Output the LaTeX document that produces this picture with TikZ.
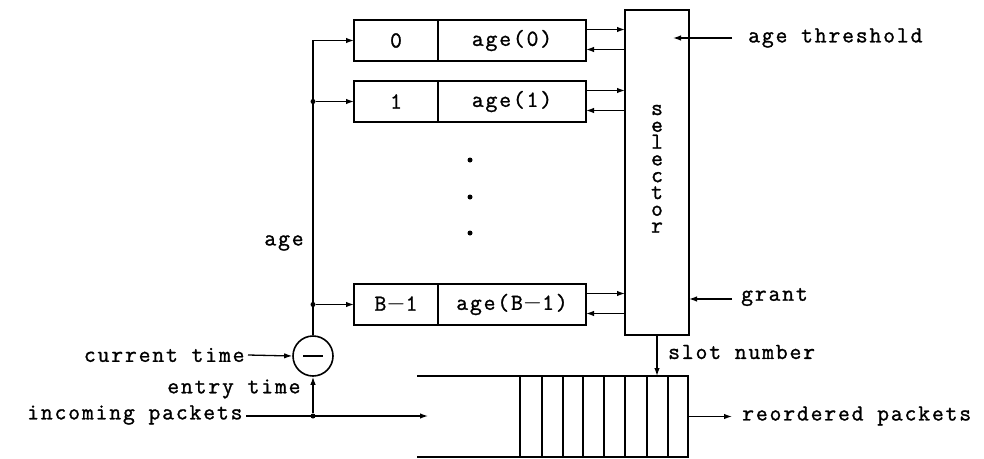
\documentclass[tikz,border=0pt]{standalone}
\usepackage{fontspec}
\setmonofont{Latin Modern Mono}[LetterSpace=8,FakeBold=1.2]
\usetikzlibrary{arrows.meta}
\begin{document}
\begin{tikzpicture}[x=1pt,y=-1pt,
  every node/.style={font=\fontsize{23}{17.5}\selectfont\ttfamily},
  box/.style={draw,line width=2pt,minimum height=41pt,inner sep=0pt,outer sep=0pt},
  conn/.style={line width=1.3pt,-{Latex[length=8pt,width=5.5pt]}},
  wire/.style={line width=1.3pt},
  dot/.style={circle,fill,inner sep=0pt,minimum size=5pt},
  letter/.style={inner sep=0pt,text height=8pt,text depth=0pt}]
\useasboundingbox (0,0) rectangle (984,458);

% register boxes
\node[box,minimum width=84pt]  (i0) at (396,40.5) {0};
\node[box,minimum width=148pt] (a0) at (512,40.5) {age(0)};
\node[box,minimum width=84pt]  (i1) at (396,101.5) {1};
\node[box,minimum width=148pt] (a1) at (512,101.5) {age(1)};
\node[box,minimum width=84pt]  (iB) at (396,304.5) {B$-$1};
\node[box,minimum width=148pt] (aB) at (512,304.5) {age(B$-$1)};

% vertical dots
\node[dot] (v1) at (470,160) {};
\node[dot] (v2) at (470,197) {};
\node[dot] (v3) at (470,233) {};

% selector
\node[box,minimum width=64pt,minimum height=325pt] (sel) at (657,172.5) {};
\foreach \c [count=\k] in {s,e,l,e,c,t,o,r}
  \node[letter] (selt\k) at (657,{111+16.8*(\k-1)}) {\c};

% selector links
\foreach \b in {a0,a1,aB}{
  \draw[conn] ([yshift=11pt]\b.east) -- ([yshift=11pt]\b.east -| sel.west);
  \draw[conn] ([yshift=-9pt]\b.east -| sel.west) -- ([yshift=-9pt]\b.east);
}

% subtractor
\node[draw,circle,line width=1.6pt,minimum size=40pt,inner sep=0pt] (sub) at (313,356) {};
\draw[wire] ([xshift=-10pt]sub.center) -- ([xshift=10pt]sub.center);

% age distribution
\draw[conn] (sub.north) |- (i0.west);
\node[dot] (d1) at (sub.north |- i1.west) {};
\node[dot] (d2) at (sub.north |- iB.west) {};
\draw[conn] (d1) -- (i1.west);
\draw[conn] (d2) -- (iB.west);
\node (agel) at (284,243) {age};

% inputs on the left
\node[anchor=east] (cur) at (248,355) {current time};
\draw[conn] (cur.east) -- (sub.west);
\node[anchor=east] (ent) at (304,389) {entry time};
\node[anchor=east] (inc) at (246,415) {incoming packets};
\node[dot] (d3) at (313,416) {};
\coordinate (qin) at (428,416);
\draw[conn] (inc.east |- d3) -- (qin);
\draw[conn] (d3) -- (sub.south);

% queue
\node[inner sep=0pt,outer sep=0pt,minimum width=168pt,minimum height=81pt] (q) at (604,416.5) {};
\draw[line width=2pt] (417,376) -- (q.north east) -- (q.south east) -- (417,457);
\foreach \x in {520,542,563,583,604,625,647,668}
  \draw[line width=1.4pt] (\x,376) -- (\x,457);

% right side signals
\node[anchor=west,inner sep=0pt] (thr) at (748,38) {age threshold};
\draw[conn] ([xshift=-16pt]thr.west) -- ([xshift=-16pt]thr.west -| sel.east);
\node[anchor=west,inner sep=0pt] (gr) at (741,297) {grant};
\draw[conn] ([xshift=-9pt]gr.west |- 0,299) -- (sel.east |- 0,299);
\node[anchor=west,inner sep=0pt] (slot) at (668,352) {slot number};
\draw[conn] (sel.south -| 657,0) -- (q.north -| 657,0);
\node[anchor=west,inner sep=0pt] (ro) at (742,416) {reordered packets};
\coordinate (rout) at (732,416.5);
\draw[conn] (q.east) -- (rout);
\end{tikzpicture}
\end{document}
